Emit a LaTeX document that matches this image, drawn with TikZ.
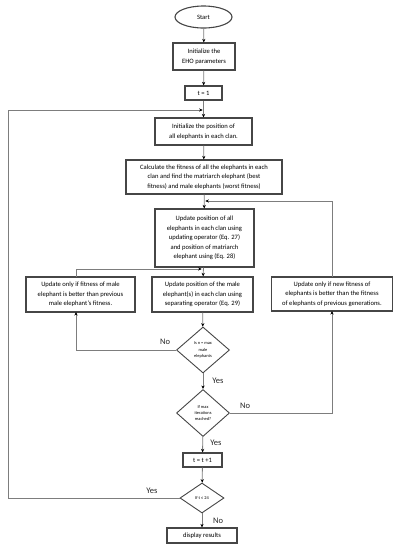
\documentclass[tikz,border=0pt]{standalone}
\usepackage{fontspec}
\setmainfont{Carlito}
\usetikzlibrary{shapes.geometric,arrows.meta}
\definecolor{lin}{RGB}{125,125,125}
\definecolor{bord}{RGB}{70,70,70}
\begin{document}
\begin{tikzpicture}[x=1pt,y=-1pt,
  box/.style={draw=bord,line width=1.1pt,rectangle,inner sep=0pt,align=center,font=\fontsize{6.6}{9.6}\selectfont,fill=white},
  dia/.style={draw=bord,line width=0.9pt,diamond,inner sep=0pt,align=center,font=\fontsize{4.4}{6.2}\selectfont,fill=white},
  con/.style={draw=lin,line width=0.8pt},
  arr/.style={con,-{Stealth[length=3.6pt,width=3.2pt,black]}},
  lab/.style={font=\fontsize{8.5}{9}\selectfont,text=black!85}]
\useasboundingbox (0,0) rectangle (401,550);
\node[draw=bord,line width=1.1pt,ellipse,minimum width=57pt,minimum height=22pt,inner sep=0pt,font=\fontsize{6.6}{8}\selectfont] (start) at (203.5,17) {Start};
\node[box,minimum width=62pt,minimum height=27pt] (eho) at (204,56.5) {Initialize the\\EHO parameters};
\node[box,minimum width=37pt,minimum height=14pt] (t1) at (203.5,93) {t = 1};
\node[box,minimum width=97pt,minimum height=27pt] (init) at (203.5,131.5) {Initialize the position of\\all elephants in each clan.};
\node[box,minimum width=156pt,minimum height=34pt] (calc) at (204,177) {Calculate the fitness of all the elephants in each\\clan and find the matriarch elephant (best\\fitness) and male elephants (worst fitness)};
\node[box,minimum width=99pt,minimum height=58pt] (upd) at (204.5,238) {Update position of all\\elephants in each clan using\\updating operator (Eq. 27)\\and position of matriarch\\elephant using (Eq. 28)};
\node[box,minimum width=109pt,minimum height=35pt] (left) at (80.5,294.5) {Update only if fitness of male\\elephant is better than previous\\male elephant's fitness.};
\node[box,minimum width=101pt,minimum height=35pt] (mid) at (202.5,294.5) {Update position of the male\\elephant(s) in each clan using\\separating operator (Eq. 29)};
\node[box,minimum width=121pt,minimum height=34pt] (right) at (332,294) {Update only if new fitness of\\elephants is better than the fitness\\of elephants of previous generations.};
\node[dia,minimum width=53pt,minimum height=46pt] (d1) at (203,350) {Is n = max\\male\\elephants};
\node[dia,minimum width=53pt,minimum height=47pt] (d2) at (203,413) {If max\\iterations\\reached?};
\node[box,minimum width=39pt,minimum height=14pt] (t2) at (202.5,460) {t = t +1};
\node[dia,minimum width=44pt,minimum height=30pt] (d3) at (202,498) {If t ≤ 24};
\node[box,minimum width=70pt,minimum height=15pt] (disp) at (202,535.5) {display results};
% coordinates
\coordinate (lp) at (203.5,110);
\coordinate (fb) at (204.5,201);
\coordinate (br) at (202.5,269);
\coordinate (lt) at (76,277);
\coordinate (lb) at (76,312);
\coordinate (rt) at (332,277);
\coordinate (rb) at (332,311);
% connectors
\draw[arr] (start) -- (eho);
\draw[arr] (eho) -- (t1);
\draw[arr] (t1) -- (init);
\draw[arr] (init) -- (calc);
\draw[arr] (calc) -- (upd);
\draw[arr] (upd) -- (mid);
\draw[arr] (mid) -- (d1);
\draw[arr] (d1) -- (d2);
\draw[arr] (d2) -- (t2);
\draw[arr] (t2) -- (d3);
\draw[arr] (d3) -- (disp);
\draw[arr,shorten >=0.8pt] (d3.west) -- (8,498) -- (8,110) -- (lp);
\draw[arr,shorten >=0.8pt] (rt) -- (332,201) -- (fb);
\draw[arr,shorten >=0.8pt] (lt) -- (76,269) -- (br);
\draw[arr] (d1.west) -- (76,350) -- (lb);
\draw[arr] (d2.east) -- (332,413) -- (rb);
% labels
\node[lab] (n1) at (165,342) {No};
\node[lab] (y1) at (218,381) {Yes};
\node[lab] (n2) at (245,406) {No};
\node[lab] (y2) at (216,443) {Yes};
\node[lab] (y3) at (152,491) {Yes};
\node[lab] (n3) at (218,521) {No};
\end{tikzpicture}
\end{document}
